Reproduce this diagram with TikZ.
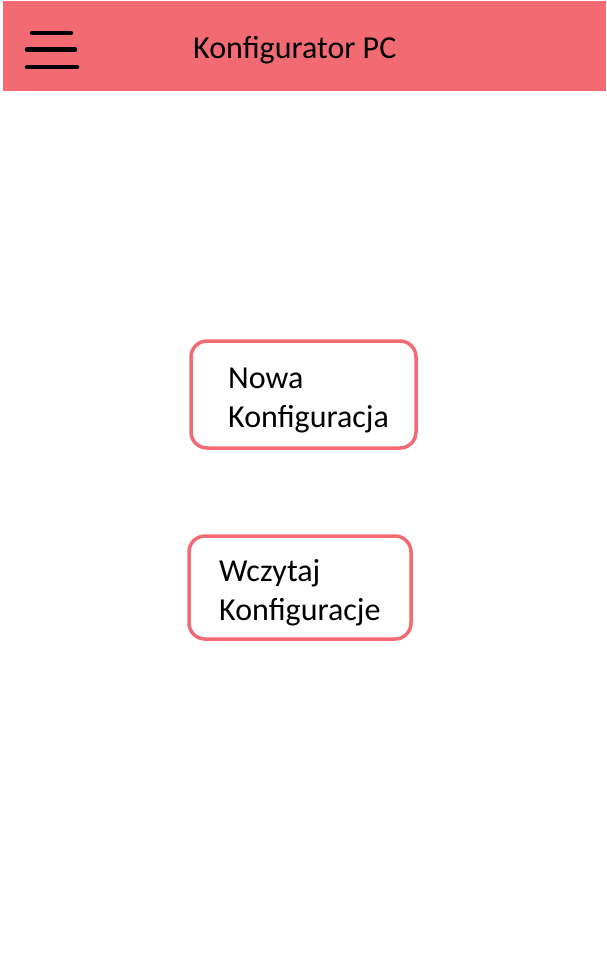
\documentclass[tikz,border=0pt]{standalone}
\usepackage{fontspec}
\setmainfont{Carlito}
\definecolor{headred}{RGB}{242,107,114}
\begin{document}
\begin{tikzpicture}[x=1pt,y=-1pt,
  header/.style={fill=headred,draw=none},
  burger/.style={line width=4.5pt,line cap=round,black},
  btn/.style={draw=headred,line width=3.5pt,rounded corners=16pt,fill=white},
  txt/.style={inner sep=0pt,anchor=base west,font=\fontsize{32}{39}\selectfont,align=left}]
\useasboundingbox (0,0) rectangle (606,962);
\fill[white] (0,0) rectangle (606,962);
\node[header,minimum width=603pt,minimum height=90pt,inner sep=0pt,anchor=north west] (bar) at (3,1) {};
\coordinate (l1a) at (32,33); \coordinate (l1b) at (71,33);
\coordinate (l2a) at (27,49.5); \coordinate (l2b) at (75,49.5);
\coordinate (l3a) at (27,67); \coordinate (l3b) at (77,67);
\draw[burger] (l1a) -- (l1b);
\draw[burger] (l2a) -- (l2b);
\draw[burger] (l3a) -- (l3b);
\node[txt] (title) at (193,58) {Konfigurator PC};
\node[btn,minimum width=225pt,minimum height=107pt,inner sep=0pt] (b1) at (303.5,394.5) {};
\node[txt] (t1) at (228,427) {Nowa\\Konfiguracja};
\node[btn,minimum width=222pt,minimum height=103pt,inner sep=0pt] (b2) at (300,587.5) {};
\node[txt] (t2) at (219,620) {Wczytaj\\Konfiguracje};
\end{tikzpicture}
\end{document}
